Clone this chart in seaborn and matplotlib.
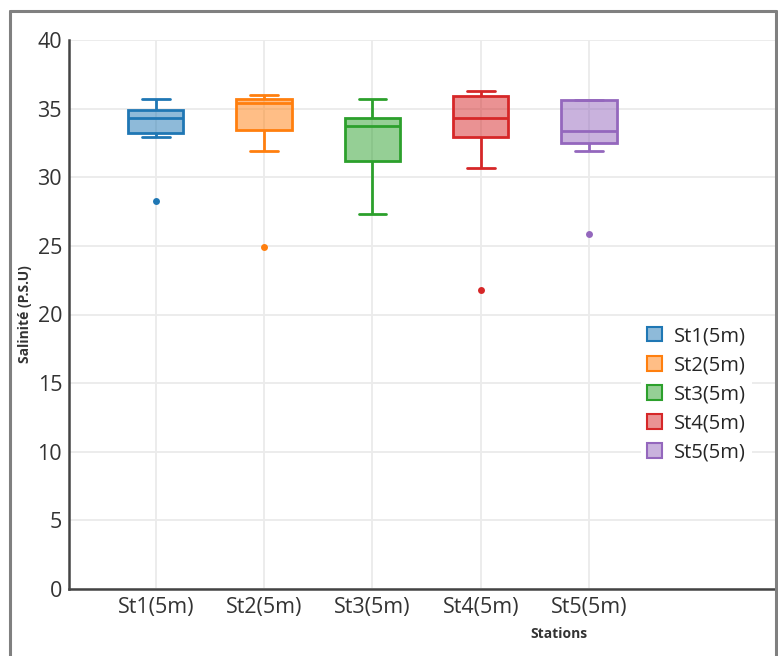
import matplotlib
matplotlib.use("Agg")
import matplotlib.pyplot as plt
import seaborn as sns
import pandas as pd
import numpy as np
from matplotlib.patches import Patch
from matplotlib.lines import Line2D
from matplotlib.colors import to_rgba

stations = ["St1(5m)", "St2(5m)", "St3(5m)", "St4(5m)", "St5(5m)"]
st1 = [28.3, 32.95, 33.2, 33.8, 34.3, 34.6, 34.9, 35.3, 35.7]
st2 = [24.95, 31.9, 33.45, 34.5, 35.4, 35.6, 35.7, 35.9, 36.0]
st3 = [27.3, 29.5, 31.2, 32.8, 33.7, 34.0, 34.3, 35.0, 35.7]
st4 = [21.75, 30.7, 32.95, 33.6, 34.3, 35.2, 35.9, 36.1, 36.3]
st5 = [25.85, 31.9, 32.5, 32.9, 33.4, 34.5, 35.6, 35.6, 35.6]
colors = ["#1f77b4", "#ff7f0e", "#2ca02c", "#d62728", "#9467bd"]

rows = []
for name, vals in zip(stations, [st1, st2, st3, st4, st5]):
    for v in vals:
        rows.append({"Stations": name, "Salinite": v})
df = pd.DataFrame(rows)

sns.set_style("white")
plt.rcParams["font.family"] = ["Open Sans", "DejaVu Sans"]

fig = plt.figure(figsize=(7.78, 6.56), dpi=100)
ax = fig.add_axes([69/778, 1-589/656, 1-69/778, (589-40)/656])

sns.boxplot(data=df, x="Stations", y="Salinite", hue="Stations", order=stations,
            hue_order=stations, palette=colors, width=0.51, dodge=False,
            linewidth=2.0, fliersize=5, legend=False, ax=ax,
            flierprops=dict(marker="o", markeredgewidth=0))

for patch, c in zip(ax.patches, colors):
    patch.set_facecolor(to_rgba(c, 0.5))
    patch.set_edgecolor(c)
nlines_per = len(ax.lines) // len(stations)
for i, line in enumerate(ax.lines):
    c = colors[i // nlines_per]
    line.set_color(c)
    line.set_markerfacecolor(c)
    line.set_markeredgecolor(c)

ax.set_xlim(-0.80, 5.743)
ax.set_ylim(0, 40)
ax.set_yticks(np.arange(0, 41, 5))
ax.grid(True, color="#ebebeb", linewidth=1.3)
ax.set_axisbelow(True)
for s in ["top", "right"]:
    ax.spines[s].set_visible(False)
for s in ["left", "bottom"]:
    ax.spines[s].set_color("#444444")
    ax.spines[s].set_linewidth(1.8)
ax.tick_params(axis="both", labelsize=15.5, colors="#444444", labelcolor="#333333")
ax.tick_params(axis="x", direction="in", length=4, pad=6)
ax.tick_params(axis="y", direction="out", length=3, pad=2)

ax.set_xlabel("Stations", fontsize=10, fontweight="bold", color="#333333")
ax.set_ylabel("Salinité (P.S.U)", fontsize=10, fontweight="bold", color="#333333")
ax.xaxis.set_label_coords(0.691, -0.069)
ax.yaxis.set_label_coords(-0.052, 0.5)

handles = [Patch(facecolor=to_rgba(c, 0.5), edgecolor=c, linewidth=1.5, label=s)
           for c, s in zip(colors, stations)]
leg = ax.legend(handles=handles, loc="upper left",
                bbox_to_anchor=((631-69)/709, (589-310)/549),
                frameon=True, fontsize=14.5, handlelength=0.75, handleheight=0.75,
                handletextpad=0.6, labelspacing=0.45, borderpad=0.3)
leg.get_frame().set_facecolor("white")
leg.get_frame().set_edgecolor("none")
leg.get_frame().set_alpha(1)

border = [Line2D([10/778, 10/778], [0, 1-11/656]),
          Line2D([10/778, 776/778], [1-11/656, 1-11/656]),
          Line2D([776/778, 776/778], [0, 1-11/656])]
for ln in border:
    ln.set_color("#808080")
    ln.set_linewidth(2.2)
    ln.set_transform(fig.transFigure)
    ln.set_clip_on(False)
    fig.add_artist(ln)

fig.savefig("out.png", dpi=100)
